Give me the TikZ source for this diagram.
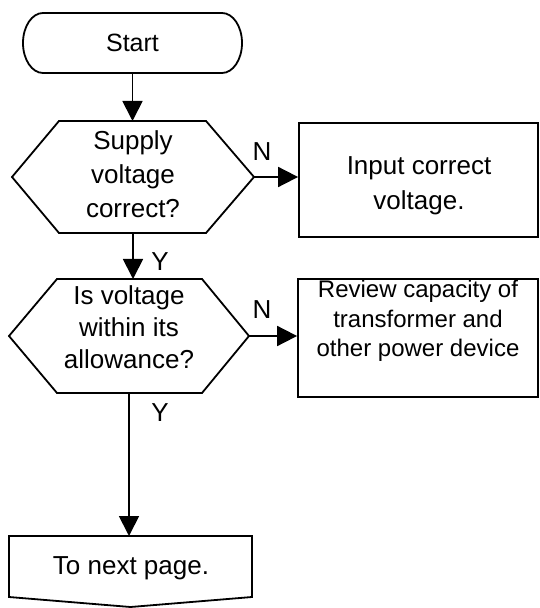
\documentclass[tikz,border=0pt]{standalone}
\usepackage{fontspec}
\setmainfont{Liberation Sans}
\usetikzlibrary{arrows.meta}
\begin{document}
\begin{tikzpicture}[x=0.5pt,y=-0.5pt,
  line width=0.9pt,
  shapebox/.style={draw=none,inner sep=0pt,outer sep=0pt},
  flow/.style={-{Triangle[length=10pt,width=10pt]}},
  txt/.style={align=center,font=\fontsize{13}{17}\selectfont},
  lbl/.style={font=\fontsize{13}{15}\selectfont,inner sep=0pt}]
\useasboundingbox (0,0) rectangle (539,608);

% Start terminal
\node[shapebox,minimum width=109.5pt,minimum height=30pt,font=\fontsize{12.5}{15}\selectfont] (start) at (132.5,43) {Start};
\draw ([xshift=10pt]start.north west) -- ([xshift=-10pt]start.north east)
  arc[start angle=90,end angle=-90,x radius=10pt,y radius=15pt]
  -- ([xshift=10pt]start.south west)
  arc[start angle=270,end angle=90,x radius=10pt,y radius=15pt] -- cycle;

% Decision 1
\node[shapebox,minimum width=121pt,minimum height=56pt] (q1) at (133,177) {};
\draw (q1.west) -- ([xshift=23.5pt]q1.north west) -- ([xshift=-24pt]q1.north east)
  -- (q1.east) -- ([xshift=-24pt]q1.south east) -- ([xshift=23.5pt]q1.south west) -- cycle;
\node[txt] (q1t) at (133,174) {Supply\\voltage\\correct?};

% Decision 2
\node[shapebox,minimum width=120pt,minimum height=57pt] (q2) at (129,336) {};
\draw (q2.west) -- ([xshift=24pt]q2.north west) -- ([xshift=-23.5pt]q2.north east)
  -- (q2.east) -- ([xshift=-23.5pt]q2.south east) -- ([xshift=24pt]q2.south west) -- cycle;
\node[txt,font=\fontsize{13}{16}\selectfont] (q2t) at (129,327) {Is voltage\\within its\\allowance?};

% Process boxes
\node[draw,inner sep=0pt,minimum width=119.5pt,minimum height=57pt] (r1) at (418.5,180) {};
\node[txt,font=\fontsize{13}{17.5}\selectfont] (r1t) at (419,186) {Input correct\\voltage.};

\node[draw,inner sep=0pt,minimum width=120pt,minimum height=59pt] (r2) at (418,338) {};
\node[txt,font=\fontsize{12}{14.75}\selectfont] (r2t) at (418,321) {Review capacity of\\transformer and\\other power device};

% Off-page connector
\node[shapebox,minimum width=121.5pt,minimum height=35.5pt] (op) at (130.5,571.5) {};
\draw (op.north west) -- (op.north east) -- ([yshift=5pt]op.south east)
  -- (op.south) -- ([yshift=5pt]op.south west) -- cycle;
\node[txt] (opt) at (131,568) {To next page.};

% Connectors
\draw[flow] (start.south) -- (start.south |- q1.north);
\draw[flow] (q1.south) -- (q1.south |- q2.north);
\draw[flow] (q1.east) -- (q1.east -| r1.west);
\draw[flow] (q2.east) -- (q2.east -| r2.west);
\draw[flow] (q2.south) -- (q2.south |- op.north);

% Labels
\node[lbl] (n1) at (262,152) {N};
\node[lbl] (y1) at (160,262) {Y};
\node[lbl] (n2) at (262,310) {N};
\node[lbl] (y2) at (160,413) {Y};
\end{tikzpicture}
\end{document}
